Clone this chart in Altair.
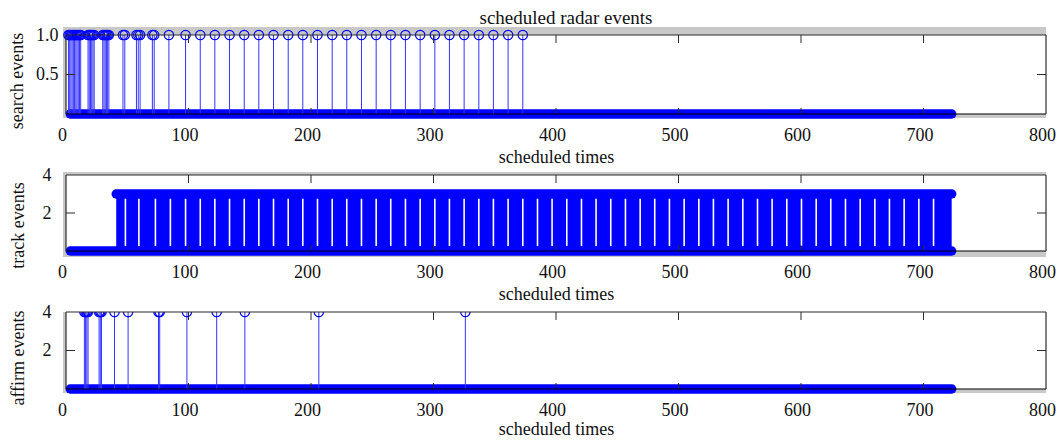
import altair as alt
import pandas as pd

# ---------------- data ----------------
x_tick_values = [0, 100, 200, 300, 400, 500, 600, 700, 800]
inner_x_ticks = [100, 200, 300, 400, 500, 600, 700]

# scheduled times of search events (value 1)
search_times = [2, 3, 4, 5, 6, 7, 8, 9, 10, 11, 12,
                18, 19, 20, 21, 22, 23,
                30, 31, 32, 33, 34, 35,
                46.5, 48,
                57.5, 59, 60.5,
                70.5, 72,
                84,
                97.6, 109.6, 121.5, 133.5, 145.5, 157.4, 169.4, 181.4, 193.3,
                205.3, 217.3, 229.2, 241.2, 253.2, 265.1, 277.1, 289.1, 301.1,
                313.0, 325.0, 337.0, 348.9, 360.9, 372.9]
search_value = 1

# scheduled times of affirm events (value 4)
affirm_times = [15, 16, 17, 18, 27, 28, 29, 39.6, 50.7, 75.5, 76.5,
                98.7, 123, 146, 206.4, 326]
affirm_value = 4

# track events (value 3) fill the schedule densely between these times
track_start = 41
track_end = 723
track_value = 3
# times where no track event is scheduled (white gaps in the track panel)
track_gaps = [48.5, 59.5, 73, 85.2,
              97.6, 109.6, 121.5, 133.5, 145.5, 157.4, 169.4, 181.4, 193.3,
              205.3, 217.3, 229.2, 241.2, 253.2, 265.1, 277.1, 289.1, 301.1,
              313.0, 325.0, 337.0, 348.9, 360.9, 372.9, 384.9, 396.8, 408.8,
              420.8, 432.7, 444.7, 456.7, 468.7, 480.6, 492.6, 504.6, 516.6,
              528.5, 540.5, 552.5, 564.5, 576.4, 588.4, 600.4, 612.4, 624.3,
              636.3, 648.3, 660.3, 672.2, 684.2, 696.2, 708.2]

# every scheduled time also shows a zero-valued stem in the other panels
zero_start = 3.5
zero_end = 723

# ---------------- styling ----------------
W = 980
BLUE = "#0000ff"
STEM = "#3434ff"
GRAY = "#c8c8c8"
DARK = "#2b2b2b"
FONT = "Liberation Serif"
FS = 18

one = pd.DataFrame({"a": [0]})


def xenc(field, title_pad=4):
    return alt.X(field, type="quantitative",
                 scale=alt.Scale(domain=[0, 800], nice=False, zero=False),
                 axis=alt.Axis(values=x_tick_values, format="d", title="scheduled times",
                               domain=False, ticks=False, grid=False, labelFlush=False,
                               labelOffset=-4, labelPadding=12, titlePadding=title_pad))


def yenc(field, ymax, yvals, yfmt, ytitle, label_pad, title_pad, title_y):
    return alt.Y(field, type="quantitative",
                 scale=alt.Scale(domain=[0, ymax], nice=False, zero=False),
                 axis=alt.Axis(values=yvals, format=yfmt, title=ytitle,
                               domain=False, ticks=False, grid=False,
                               labelPadding=label_pad, titlePadding=title_pad,
                               titleY=title_y))


def frame_layers(H, gray_top, gray_bottom):
    gray = alt.Chart(one).mark_rect(color=GRAY).encode(
        x=alt.value(-3), x2=alt.value(W), y=alt.value(-gray_top), y2=alt.value(H + gray_bottom))
    white = alt.Chart(one).mark_rect(color="white").encode(
        x=alt.value(0), x2=alt.value(W), y=alt.value(0), y2=alt.value(H))
    return gray, white


def tick_borders(H, ymax, yticks):
    tdf = pd.DataFrame({"t": inner_x_ticks})
    ydf = pd.DataFrame({"v": yticks})
    xs = alt.Scale(domain=[0, 800], nice=False, zero=False)
    ys = alt.Scale(domain=[0, ymax], nice=False, zero=False)
    bt = alt.Chart(tdf).mark_rule(color=DARK).encode(
        x=alt.X("t:Q", scale=xs), y=alt.value(H), y2=alt.value(H - 6))
    tt = alt.Chart(tdf).mark_rule(color=DARK).encode(
        x=alt.X("t:Q", scale=xs), y=alt.value(0), y2=alt.value(8))
    lt = alt.Chart(ydf).mark_rule(color=DARK).encode(
        y=alt.Y("v:Q", scale=ys), x=alt.value(0), x2=alt.value(9))
    rt = alt.Chart(ydf).mark_rule(color=DARK).encode(
        y=alt.Y("v:Q", scale=ys), x=alt.value(W - 9), x2=alt.value(W))
    b_top = alt.Chart(one).mark_rule(color=DARK, strokeWidth=1.2).encode(
        x=alt.value(0), x2=alt.value(W), y=alt.value(0))
    b_bot = alt.Chart(one).mark_rule(color="#000000", strokeWidth=1.2).encode(
        x=alt.value(0), x2=alt.value(W), y=alt.value(H))
    b_left = alt.Chart(one).mark_rule(color=DARK, strokeWidth=1.2).encode(
        x=alt.value(0), y=alt.value(0), y2=alt.value(H))
    b_right = alt.Chart(one).mark_rule(color=DARK, strokeWidth=1.2).encode(
        x=alt.value(W), y=alt.value(0), y2=alt.value(H))
    return [bt, tt, lt, rt, b_top, b_bot, b_left, b_right]


def zero_band(ymax, yargs, xpad=4):
    zdf = pd.DataFrame({"start": [zero_start], "end": [zero_end], "v": [0]})
    return alt.Chart(zdf).mark_rule(color=BLUE, strokeWidth=9.5, strokeCap="round").encode(
        x=xenc("start", xpad), x2="end:Q", y=yenc("v", ymax, *yargs))


def stems(times, value, ymax, yargs, clip=False, xpad=4):
    df = pd.DataFrame({"t": times, "base": [0] * len(times), "v": [value] * len(times)})
    st = alt.Chart(df).mark_rule(color=STEM, strokeWidth=1).encode(
        x=xenc("t", xpad), y=yenc("base", ymax, *yargs), y2="v:Q")
    mk = alt.Chart(df).mark_point(shape="circle", filled=False, color=BLUE, size=88,
                                  strokeWidth=1.2, opacity=1, clip=clip).encode(
        x=xenc("t", xpad), y=yenc("v", ymax, *yargs))
    return [st, mk]


# ---------- panel 1: search ----------
H1 = 79
y1 = ([0.5, 1.0], ".1f", "search events", 8, 9, H1 / 2 + 6)
g1, w1 = frame_layers(H1, 8, 4)
p1 = alt.layer(g1, w1, zero_band(1, y1), *stems(search_times, search_value, 1, y1),
               *tick_borders(H1, 1, [0.5])).properties(
    width=W, height=H1,
    title=alt.Title("scheduled radar events", font=FONT, fontSize=19, fontWeight="normal",
                    color="#111111", offset=-1.5, frame="group", dx=10))

# ---------- panel 2: track ----------
H2 = 76
y2 = ([2, 4], "d", "track events", 15, 15, H2 / 2 + 12)
g2, w2 = frame_layers(H2, 3, 6)
tdf = pd.DataFrame({"start": [track_start], "end": [track_end], "base": [0], "v": [track_value]})
track_block = alt.Chart(tdf).mark_rect(color=BLUE).encode(
    x=xenc("start"), x2="end:Q", y=yenc("base", 4, *y2), y2="v:Q")
track_top = alt.Chart(tdf).mark_rule(color=BLUE, strokeWidth=9.5, strokeCap="round").encode(
    x=xenc("start"), x2="end:Q", y=yenc("v", 4, *y2))
gdf = pd.DataFrame({"t": track_gaps, "base": [0.25] * len(track_gaps),
                    "v": [2.8] * len(track_gaps)})
track_gap_rules = alt.Chart(gdf).mark_rule(color="white", strokeWidth=1.6).encode(
    x=xenc("t"), y=yenc("base", 4, *y2), y2="v:Q")
p2 = alt.layer(g2, w2, track_block, track_gap_rules, track_top, zero_band(4, y2),
               *tick_borders(H2, 4, [2])).properties(width=W, height=H2)

# ---------- panel 3: affirm ----------
H3 = 77
y3 = ([2, 4], "d", "affirm events", 15, 15, H3 / 2 + 7)
g3, w3 = frame_layers(H3, 0, 4)
p3 = alt.layer(g3, w3, zero_band(4, y3, xpad=1),
               *stems(affirm_times, affirm_value, 4, y3, clip=True, xpad=1),
               *tick_borders(H3, 4, [2])).properties(width=W, height=H3)

chart = alt.vconcat(p1, p2, p3, spacing=61, bounds="flush").properties(
    padding={"left": 0, "top": 0, "right": 0, "bottom": 0}
).configure_view(stroke=None).configure_axis(
    labelFont=FONT, labelFontSize=FS, labelColor="#111111",
    titleFont=FONT, titleFontSize=FS, titleFontWeight="normal", titleColor="#111111"
).configure_title(font=FONT)

chart.save("out.html", embed_options={"renderer": "svg", "actions": False})
